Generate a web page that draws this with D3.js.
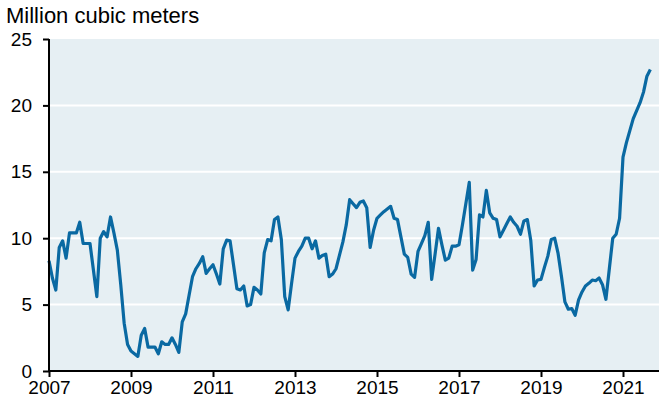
<!DOCTYPE html>
<html>
<head>
<meta charset="utf-8">
<script src="https://cdn.jsdelivr.net/npm/d3@7"></script>
<style>
  html, body { margin: 0; padding: 0; background: #ffffff; }
  svg { display: block; font-family: "Liberation Sans", Arial, sans-serif; }
</style>
</head>
<body>
<svg id="chart" width="659" height="405"></svg>
<script>
// Monthly series, Jan 2007 .. Sep 2021 (million cubic meters)
const startYear = 2007;
const values = [
  8.3, 7.0, 6.1, 9.3, 9.8, 8.5, 10.4, 10.4, 10.4, 11.2, 9.6, 9.6,       // 2007
  9.6, 7.6, 5.6, 10.0, 10.5, 10.1, 11.6, 10.4, 9.1, 6.5, 3.6, 2.0,      // 2008
  1.5, 1.3, 1.1, 2.7, 3.2, 1.8, 1.8, 1.8, 1.3, 2.2, 2.0, 2.0,           // 2009
  2.5, 2.0, 1.4, 3.7, 4.3, 5.7, 7.1, 7.7, 8.1, 8.6, 7.35, 7.7,          // 2010
  8.0, 7.3, 6.55, 9.2, 9.85, 9.8, 8.0, 6.2, 6.1, 6.4, 4.9, 5.0,         // 2011
  6.3, 6.1, 5.8, 8.9, 9.9, 9.8, 11.4, 11.6, 9.9, 5.6, 4.6, 6.6,         // 2012
  8.5, 9.0, 9.4, 10.0, 10.0, 9.2, 9.8, 8.5, 8.7, 8.8, 7.1, 7.3,         // 2013
  7.7, 8.7, 9.7, 11.0, 12.9, 12.6, 12.3, 12.7, 12.8, 12.3, 9.3, 10.6,   // 2014
  11.5, 11.75, 12.0, 12.2, 12.4, 11.5, 11.4, 10.1, 8.8, 8.55, 7.3, 7.05,// 2015
  9.0, 9.6, 10.2, 11.2, 6.9, 8.8, 10.75, 9.5, 8.35, 8.5, 9.4, 9.4,      // 2016
  9.5, 11.0, 12.6, 14.2, 7.6, 8.4, 11.75, 11.6, 13.6, 11.9, 11.5, 11.4, // 2017
  10.1, 10.6, 11.1, 11.6, 11.2, 10.9, 10.3, 11.3, 11.4, 9.85, 6.4, 6.85,// 2018
  6.9, 7.8, 8.65, 9.9, 10.0, 8.85, 7.1, 5.2, 4.65, 4.7, 4.2, 5.35,      // 2019
  5.95, 6.4, 6.6, 6.85, 6.8, 7.0, 6.5, 5.4, 7.7, 10.0, 10.3, 11.5,      // 2020
  16.1, 17.2, 18.1, 19.0, 19.6, 20.2, 21.0, 22.2, 22.7                  // 2021
];
const yTicks = [0, 5, 10, 15, 20, 25];
const xTicks = [2007, 2009, 2011, 2013, 2015, 2017, 2019, 2021];
const unitLabel = "Million cubic meters";

const svg = d3.select("#chart");
const mLeft = 49, mRight = 659, mTop = 39, mBottom = 371;

const x = d3.scaleLinear().domain([2007, 2007 + (mRight - mLeft) / 41]).range([mLeft, mRight]);
const y = d3.scaleLinear().domain([0, 25]).range([mBottom, mTop]);

// plot background
svg.append("rect")
  .attr("x", x.range()[0]).attr("y", y(25))
  .attr("width", x.range()[1] - x.range()[0]).attr("height", y(0) - y(25))
  .attr("fill", "#e6eff3");

// gridlines
svg.append("g").selectAll("line")
  .data(yTicks.filter(d => d > 0 && d < 25))
  .join("line")
  .attr("x1", mLeft).attr("x2", mRight)
  .attr("y1", d => y(d)).attr("y2", d => y(d))
  .attr("stroke", "#ffffff").attr("stroke-width", 2);

// line
const data = values.map((v, i) => ({ t: startYear + i / 12, v }));
svg.append("path")
  .datum(data)
  .attr("fill", "none")
  .attr("stroke", "#0a69a2")
  .attr("stroke-width", 3.2)
  .attr("stroke-linejoin", "round")
  .attr("d", d3.line().x(d => x(d.t)).y(d => y(d.v)));

// y axis
const yAxis = svg.append("g")
  .attr("transform", `translate(${mLeft},0)`)
  .call(d3.axisLeft(y).tickValues(yTicks).tickSize(6).tickPadding(11).tickFormat(d3.format("d")));
yAxis.select(".domain").attr("stroke", "#000").attr("stroke-width", 2).attr("d", `M0,${y(25)}V${y(0)}`);
yAxis.selectAll(".tick line").attr("stroke", "#000").attr("stroke-width", 2);
yAxis.selectAll(".tick text").attr("font-size", 19).attr("fill", "#000")
  .attr("font-family", "Liberation Sans, Arial, sans-serif");

// x axis
const xAxis = svg.append("g")
  .attr("transform", `translate(0,${mBottom})`)
  .call(d3.axisBottom(x).tickValues(xTicks).tickSize(6).tickPadding(4).tickFormat(d3.format("d")));
xAxis.select(".domain").attr("stroke", "#000").attr("stroke-width", 2).attr("d", `M${mLeft},0H${mRight}`);
xAxis.selectAll(".tick line").attr("stroke", "#000").attr("stroke-width", 2);
xAxis.selectAll(".tick text").attr("font-size", 19).attr("fill", "#000")
  .attr("font-family", "Liberation Sans, Arial, sans-serif");

// unit label
svg.append("text")
  .attr("x", 6).attr("y", 23)
  .attr("font-size", 22).attr("fill", "#000")
  .text(unitLabel);
</script>
</body>
</html>
